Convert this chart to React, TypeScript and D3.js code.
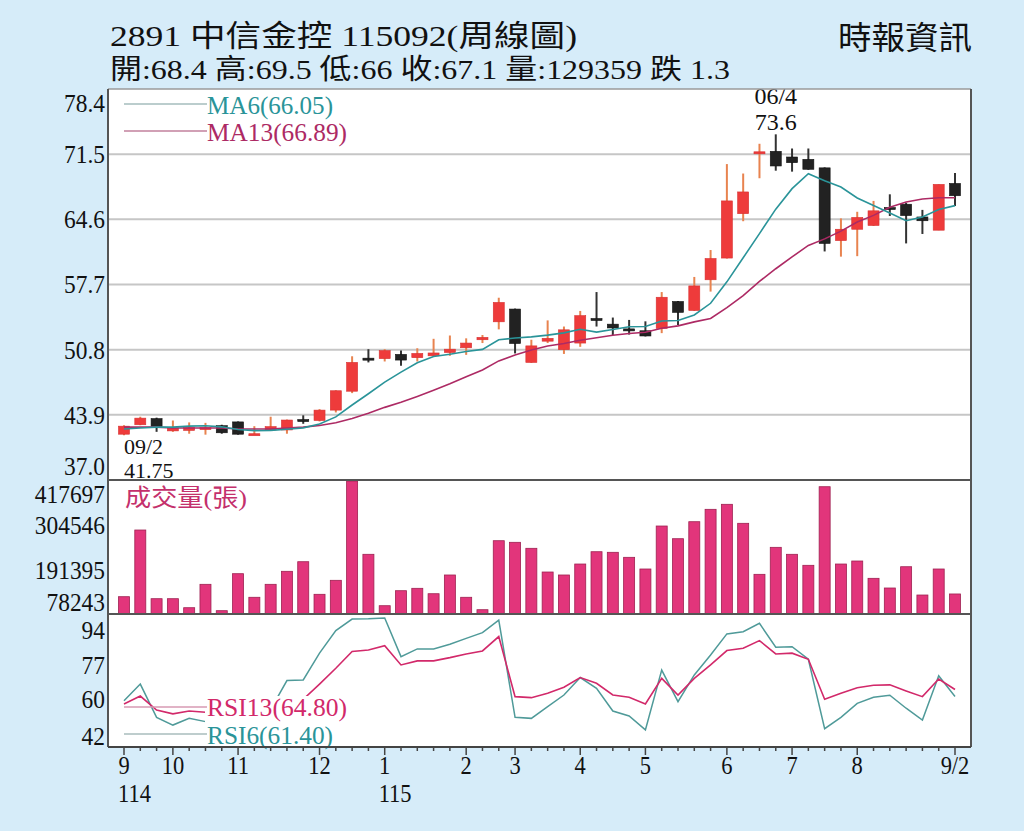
import React from 'react';
import * as d3 from 'd3';

// weekly OHLC, 2891 中信金控, 114/09 .. 115/09/2
const openP = [41.85, 42.85, 43.5, 42.2, 42.25, 42.45, 42.75, 43.15, 41.8, 42.3, 42.3, 43.4, 43.3, 44.4, 46.4, 49.9, 49.85, 50.3, 49.95, 50.15, 50.5, 51.0, 51.85, 53.75, 55.1, 49.45, 51.7, 50.8, 51.5, 54.1, 53.5, 53.0, 52.8, 53.05, 55.9, 54.95, 58.2, 60.5, 65.2, 71.7, 71.8, 71.2, 70.95, 70.05, 62.35, 63.55, 63.95, 65.85, 66.2, 64.85, 63.45, 68.4];
const highP = [42.8, 43.7, 43.6, 43.3, 43.1, 43.05, 42.85, 43.2, 42.7, 43.7, 43.4, 43.85, 44.5, 46.5, 50.1, 50.85, 50.85, 50.7, 50.95, 51.95, 52.3, 52.0, 52.35, 56.3, 55.15, 51.85, 53.9, 53.25, 54.9, 56.9, 54.2, 53.95, 53.8, 56.9, 55.95, 58.5, 61.35, 70.45, 69.45, 72.6, 73.6, 72.1, 72.1, 70.1, 64.7, 65.4, 66.55, 67.25, 66.35, 65.6, 68.3, 69.5];
const lowP = [41.75, 42.8, 42.1, 42.1, 41.9, 41.8, 41.9, 41.8, 41.8, 42.2, 41.9, 42.95, 43.2, 44.15, 46.2, 49.45, 49.55, 49.1, 49.55, 50.1, 50.15, 50.25, 51.5, 52.95, 50.4, 49.4, 51.5, 50.35, 51.1, 53.25, 52.35, 52.4, 52.2, 52.55, 53.4, 54.9, 56.95, 60.45, 64.4, 68.95, 69.75, 69.65, 69.85, 61.2, 60.65, 60.7, 63.9, 64.95, 62.05, 63.05, 63.45, 66.0];
const closeP = [42.7, 43.55, 42.65, 42.5, 42.55, 42.55, 42.0, 41.85, 41.9, 42.65, 43.35, 43.35, 44.4, 46.45, 49.45, 49.8, 50.7, 49.7, 50.4, 50.45, 50.85, 51.5, 52.1, 55.8, 51.45, 51.2, 52.0, 52.9, 54.4, 54.0, 53.1, 52.9, 52.25, 56.35, 54.75, 57.55, 60.45, 66.55, 67.5, 71.75, 70.25, 70.6, 69.9, 62.05, 63.55, 64.8, 65.5, 65.8, 65.0, 64.45, 68.3, 67.1];
const volume = [122400, 292600, 117300, 117300, 94300, 154000, 86700, 181100, 120900, 154000, 187200, 211700, 128500, 164200, 417697, 230600, 99400, 137700, 143800, 130000, 177800, 120900, 89200, 265300, 261200, 245900, 185400, 177800, 205800, 237200, 235700, 222900, 193100, 302800, 270400, 313800, 345400, 358200, 309700, 179500, 248400, 230600, 202500, 403100, 205800, 213500, 169300, 144600, 198900, 126700, 193100, 129359];
const ma6 = [42.4, 42.5, 42.6, 42.6, 42.7, 42.75, 42.63, 42.35, 42.23, 42.25, 42.38, 42.52, 42.92, 43.68, 44.94, 46.13, 47.36, 48.42, 49.42, 50.08, 50.32, 50.6, 50.83, 51.85, 52.03, 52.15, 52.34, 52.58, 52.96, 52.66, 52.93, 53.22, 53.26, 53.83, 53.89, 54.48, 55.71, 57.98, 60.53, 63.09, 65.68, 67.85, 69.43, 68.68, 68.02, 66.86, 66.07, 65.27, 64.45, 64.85, 65.64, 66.05];
const ma13 = [42.6, 42.6, 42.6, 42.5, 42.5, 42.5, 42.5, 42.4, 42.4, 42.4, 42.5, 42.6, 42.77, 43.06, 43.51, 44.06, 44.69, 45.24, 45.85, 46.5, 47.19, 47.93, 48.65, 49.61, 50.23, 50.76, 51.18, 51.45, 51.8, 52.06, 52.32, 52.51, 52.65, 53.07, 53.32, 53.74, 54.1, 55.26, 56.52, 58.03, 59.37, 60.62, 61.84, 62.53, 63.35, 64.31, 65.02, 65.87, 66.44, 66.75, 66.88, 66.89];
const rsi6 = [59.3, 67.5, 51.1, 47.3, 50.6, 49.0, 45.0, 42.0, 41.0, 55.0, 69.2, 69.5, 82.7, 93.8, 99.5, 99.6, 100, 81.0, 84.8, 84.8, 87.1, 90.0, 92.8, 99.0, 51.1, 50.6, 56.4, 62.1, 70.7, 65.4, 54.2, 51.8, 44.9, 74.4, 58.8, 72.0, 81.8, 92.2, 93.3, 97.4, 85.6, 85.9, 79.7, 45.5, 51.1, 58.0, 61.0, 62.0, 55.6, 49.8, 71.6, 61.4];
const rsi13 = [57.7, 61.6, 54.7, 52.8, 54.2, 53.6, 51.5, 50.0, 49.5, 53.0, 57.5, 60.0, 67.5, 75.3, 83.5, 84.3, 86.4, 76.9, 78.9, 78.9, 80.5, 82.3, 83.8, 90.9, 61.3, 60.8, 63.0, 65.9, 70.7, 67.9, 62.1, 61.0, 57.7, 70.3, 62.1, 70.3, 76.9, 84.0, 85.1, 88.9, 82.3, 82.7, 79.7, 60.0, 63.0, 65.7, 66.9, 67.1, 64.1, 61.3, 70.0, 64.8];

const priceTicks = [78.4, 71.5, 64.6, 57.7, 50.8, 43.9, 37.0];
const volTicks = [417697, 304546, 191395, 78243];
const rsiTicks = [94, 77, 60, 42];
const monthTickIdx = [0, 3, 7, 12, 16, 21, 24, 28, 32, 37, 41, 45, 51];
const monthTickLabels = ['9', '10', '11', '12', '1', '2', '3', '4', '5', '6', '7', '8', '9/2'];
const yearTickIdx = [0, 16];
const yearTickLabels = ['114', '115'];
const highDate = '06/4';
const lowDate = '09/2';

const titleText = '2891  中信金控 115092(周線圖)';
const subText = '開:68.4 高:69.5 低:66 收:67.1 量:129359 跌 1.3';
const sourceText = '時報資訊';

const FONT = "'Liberation Serif', 'Noto Sans CJK TC', serif";
const L = 108, R = 971, TOP = 89, PRICE_B = 480, VOL_B = 614, RSI_B = 747;

const UP = '#ee3b3b', UP_WICK = '#e8834f', DN = '#222222', DN_WICK = '#333333';
const TEAL = '#2a9499', MAGENTA = '#ad2a64', RSI6_C = '#4f9a99', RSI13_C = '#d2296a';
const VOL_FILL = '#e2357b', VOL_EDGE = '#9e2151';

const App: React.FC = () => {
  const n = closeP.length;
  const idx = d3.range(n);
  const x = d3.scaleLinear().domain([0, n - 1]).range([124, 955]);
  const yP = d3.scaleLinear().domain([37, 78.4]).range([PRICE_B, TOP]);
  const yV = d3.scaleLinear().domain([78243, 417697]).range([VOL_B, PRICE_B + 1]);
  const yR = d3.scaleLinear().domain([36.5, 101.5]).range([RSI_B, VOL_B + 1]);

  const path = (vals: number[], y: d3.ScaleLinear<number, number>) =>
    d3.line<number>().x(i => x(i)).y(i => y(vals[i]))(idx) || '';

  const hiI = d3.maxIndex(highP);
  const loI = d3.minIndex(lowP);
  const bw = 11;

  const axisLabel = (key: string, txt: string, yy: number) => (
    <text key={key} transform={`translate(105,${yy}) scale(0.9,1)`} textAnchor="end"
      dominantBaseline="central" fontSize={26} fill="#111">{txt}</text>
  );

  return (
    <div style={{ position: 'absolute', left: 0, top: 0 }}>
      <svg width={1024} height={831} style={{ display: 'block', fontFamily: FONT }}>
        <defs>
          <clipPath id="rsiClip"><rect x={L} y={VOL_B + 1} width={R - L} height={RSI_B - VOL_B - 1} /></clipPath>
        </defs>
        <rect x={0} y={0} width={1024} height={831} fill="#d6ecf9" />
        <rect x={L} y={TOP} width={R - L} height={RSI_B - TOP} fill="#fff" />

        {/* header */}
        <text x={110} y={46} fontSize={30} textLength={467} lengthAdjust="spacingAndGlyphs" fill="#111">{titleText}</text>
        <text x={110} y={79} fontSize={28} textLength={620} lengthAdjust="spacingAndGlyphs" fill="#111">{subText}</text>
        <text x={838} y={49} fontSize={32} textLength={134} lengthAdjust="spacingAndGlyphs" fill="#111">{sourceText}</text>

        {/* price grid */}
        {priceTicks.slice(1, -1).map(t => (
          <line key={'g' + t} x1={L} x2={R} y1={yP(t)} y2={yP(t)} stroke="#c6c6c6" strokeWidth={2} />
        ))}
        {priceTicks.map(t => axisLabel('p' + t, t.toFixed(1),
          Math.min(Math.max(yP(t), TOP + 14), PRICE_B - 14)))}

        {/* candles */}
        {idx.map(i => {
          const up = closeP[i] >= openP[i];
          const top = yP(Math.max(openP[i], closeP[i]));
          const h = Math.max(2, Math.abs(yP(openP[i]) - yP(closeP[i])));
          return (
            <g key={'c' + i}>
              <line x1={x(i)} x2={x(i)} y1={yP(highP[i])} y2={yP(lowP[i])}
                stroke={up ? UP_WICK : DN_WICK} strokeWidth={2} />
              <rect x={x(i) - bw / 2} y={top} width={bw} height={h}
                fill={up ? UP : DN} stroke={up ? '#d83030' : '#111'} strokeWidth={0.6} />
            </g>
          );
        })}
        <path d={path(ma13, yP)} fill="none" stroke={MAGENTA} strokeWidth={1.6} />
        <path d={path(ma6, yP)} fill="none" stroke={TEAL} strokeWidth={1.6} />

        {/* price legend & extremes */}
        <line x1={124} x2={207} y1={104} y2={104} stroke="#a5bcbc" strokeWidth={1.6} />
        <text x={207} y={105} fontSize={25} dominantBaseline="central" textLength={126}
          lengthAdjust="spacingAndGlyphs" fill={TEAL}>{`MA6(${ma6[n - 1].toFixed(2)})`}</text>
        <line x1={124} x2={207} y1={131} y2={131} stroke="#c2819c" strokeWidth={1.6} />
        <text x={207} y={132} fontSize={25} dominantBaseline="central" textLength={140}
          lengthAdjust="spacingAndGlyphs" fill={MAGENTA}>{`MA13(${ma13[n - 1].toFixed(2)})`}</text>
        <text x={x(hiI)} y={96} fontSize={24} textAnchor="middle" dominantBaseline="central" fill="#111">{highDate}</text>
        <text x={x(hiI)} y={122} fontSize={24} textAnchor="middle" dominantBaseline="central" fill="#111">{String(highP[hiI])}</text>
        <text x={x(loI)} y={446} fontSize={22} dominantBaseline="central" fill="#111">{lowDate}</text>
        <text x={x(loI)} y={470} fontSize={22} dominantBaseline="central" fill="#111">{String(lowP[loI])}</text>

        {/* volume */}
        {idx.map(i => (
          <rect key={'v' + i} x={x(i) - bw / 2} y={yV(volume[i])} width={bw}
            height={Math.max(1, VOL_B - yV(volume[i]))} fill={VOL_FILL} stroke={VOL_EDGE} strokeWidth={0.8} />
        ))}
        {volTicks.map(t => axisLabel('v' + t, String(t),
          Math.min(Math.max(yV(t), PRICE_B + 14), VOL_B - 12)))}
        <text x={125} y={498} fontSize={24} dominantBaseline="central" textLength={122}
          lengthAdjust="spacingAndGlyphs" fill="#c4306c">成交量(張)</text>

        {/* RSI */}
        <g clipPath="url(#rsiClip)">
          <path d={path(rsi6, yR)} fill="none" stroke={RSI6_C} strokeWidth={1.5} />
          <path d={path(rsi13, yR)} fill="none" stroke={RSI13_C} strokeWidth={1.6} />
        </g>
        {rsiTicks.map(t => axisLabel('r' + t, String(t), yR(t)))}
        <rect x={205} y={696} width={143} height={50} fill="#fff" />
        <line x1={124} x2={207} y1={707} y2={707} stroke="#d79ab3" strokeWidth={1.6} />
        <text x={207} y={707} fontSize={25} dominantBaseline="central" textLength={140}
          lengthAdjust="spacingAndGlyphs" fill={RSI13_C}>{`RSI13(${rsi13[n - 1].toFixed(2)})`}</text>
        <line x1={124} x2={207} y1={734} y2={734} stroke="#a9bcbc" strokeWidth={1.6} />
        <text x={207} y={735} fontSize={25} dominantBaseline="central" textLength={126}
          lengthAdjust="spacingAndGlyphs" fill={TEAL}>{`RSI6(${rsi6[n - 1].toFixed(2)})`}</text>

        {/* frame & dividers */}
        <line x1={L} x2={R} y1={TOP} y2={TOP} stroke="#9a9a9a" strokeWidth={1.5} />
        <line x1={L} x2={L} y1={TOP} y2={RSI_B} stroke="#555" strokeWidth={2} />
        <line x1={R} x2={R} y1={TOP} y2={RSI_B} stroke="#555" strokeWidth={2} />
        <line x1={L} x2={R} y1={PRICE_B} y2={PRICE_B} stroke="#555" strokeWidth={2} />
        <line x1={L} x2={R} y1={VOL_B} y2={VOL_B} stroke="#555" strokeWidth={2} />
        <line x1={L} x2={R} y1={RSI_B} y2={RSI_B} stroke="#444" strokeWidth={2} />

        {/* x axis */}
        {idx.map(i => (
          <line key={'t' + i} x1={x(i)} x2={x(i)} y1={RSI_B} y2={RSI_B + (monthTickIdx.includes(i) ? 8 : 4)}
            stroke="#444" strokeWidth={1.5} />
        ))}
        {monthTickIdx.map((i, k) => (
          <text key={'m' + k} transform={`translate(${x(i)},${766}) scale(0.9,1)`} textAnchor="middle"
            dominantBaseline="central" fontSize={25} fill="#111">{monthTickLabels[k]}</text>
        ))}
        {yearTickIdx.map((i, k) => (
          <text key={'y' + k} transform={`translate(${x(i) - 6},${794}) scale(0.9,1)`}
            dominantBaseline="central" fontSize={25} fill="#111">{yearTickLabels[k]}</text>
        ))}
      </svg>
    </div>
  );
};

export default App;
